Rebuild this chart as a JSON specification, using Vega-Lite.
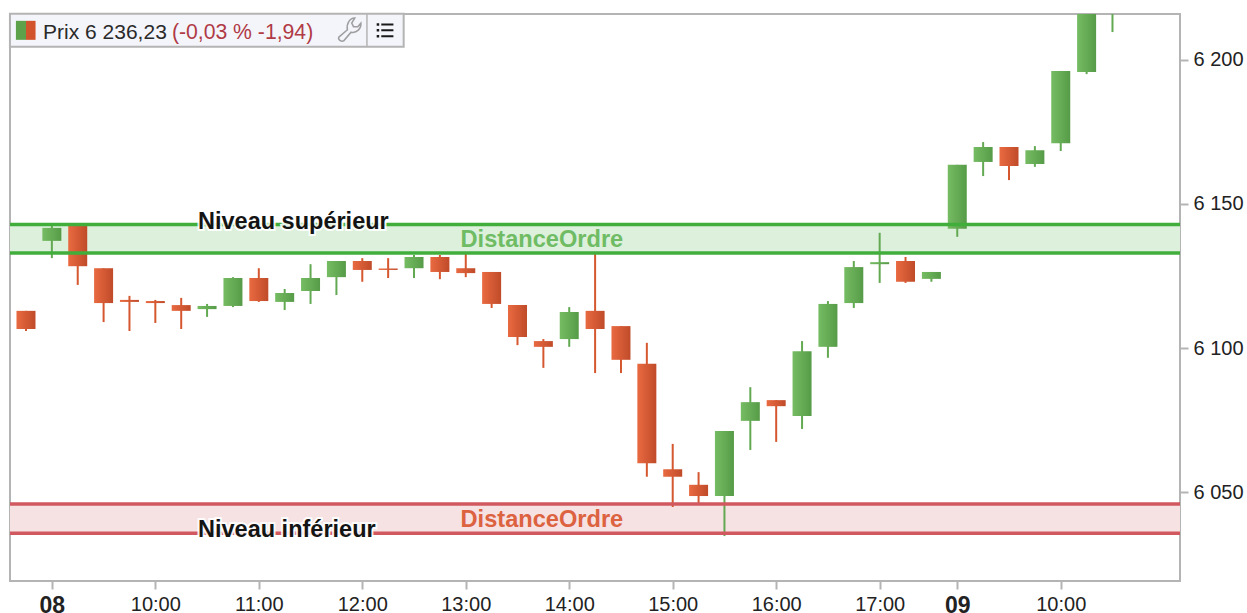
{"$schema":"https://vega.github.io/schema/vega-lite/v6.json","autosize":{"type":"none"},"padding":{"left":10,"top":14,"right":67,"bottom":32},"width":1170,"height":567,"background":"white","view":{"stroke":"#b4b4b4","strokeWidth":2,"fill":"white"},
"datasets":{"candles":[
{"slot":0,"open":6112.9,"close":6106.6,"high":6112.9,"low":6105.9,"dir":"down"},
{"slot":1,"open":6137.2,"close":6141.7,"high":6142.7,"low":6131.2,"dir":"up"},
{"slot":2,"open":6142.4,"close":6128.4,"high":6142.4,"low":6121.9,"dir":"down"},
{"slot":3,"open":6127.7,"close":6115.6,"high":6127.7,"low":6109,"dir":"down"},
{"slot":4,"open":6116.7,"close":6116,"high":6118.1,"low":6105.9,"dir":"down"},
{"slot":5,"open":6116.3,"close":6115.6,"high":6116.7,"low":6108.7,"dir":"down"},
{"slot":6,"open":6114.9,"close":6112.9,"high":6117.4,"low":6106.6,"dir":"down"},
{"slot":7,"open":6113.5,"close":6114.6,"high":6115.3,"low":6110.8,"dir":"up"},
{"slot":8,"open":6114.6,"close":6124.3,"high":6124.6,"low":6114.2,"dir":"up"},
{"slot":9,"open":6124.3,"close":6116.3,"high":6127.7,"low":6116,"dir":"down"},
{"slot":10,"open":6116,"close":6119.1,"high":6120.5,"low":6113.2,"dir":"up"},
{"slot":11,"open":6119.8,"close":6124.3,"high":6129.1,"low":6115.3,"dir":"up"},
{"slot":12,"open":6124.6,"close":6130.2,"high":6130.2,"low":6118.4,"dir":"up"},
{"slot":13,"open":6130.2,"close":6127.1,"high":6131.2,"low":6123,"dir":"down"},
{"slot":14,"open":6127.6,"close":6127.1,"high":6131.2,"low":6124.3,"dir":"down"},
{"slot":15,"open":6127.7,"close":6131.6,"high":6132.3,"low":6124.3,"dir":"up"},
{"slot":16,"open":6131.6,"close":6126.4,"high":6132.3,"low":6123.9,"dir":"down"},
{"slot":17,"open":6127.7,"close":6126,"high":6133,"low":6124.6,"dir":"down"},
{"slot":18,"open":6126.4,"close":6115.3,"high":6126.4,"low":6113.9,"dir":"down"},
{"slot":19,"open":6114.9,"close":6103.8,"high":6114.9,"low":6101,"dir":"down"},
{"slot":20,"open":6102.4,"close":6100.4,"high":6103.1,"low":6093.1,"dir":"down"},
{"slot":21,"open":6103.1,"close":6112.5,"high":6114.2,"low":6100.4,"dir":"up"},
{"slot":22,"open":6112.9,"close":6106.6,"high":6133,"low":6091.3,"dir":"down"},
{"slot":23,"open":6107.6,"close":6095.9,"high":6107.6,"low":6091.3,"dir":"down"},
{"slot":24,"open":6094.5,"close":6060,"high":6101.8,"low":6055.3,"dir":"down"},
{"slot":25,"open":6057.9,"close":6055.3,"high":6066.7,"low":6044.8,"dir":"down"},
{"slot":26,"open":6052.5,"close":6048.6,"high":6056.9,"low":6046.2,"dir":"down"},
{"slot":27,"open":6048.6,"close":6071.2,"high":6071.2,"low":6034.7,"dir":"up"},
{"slot":28,"open":6074.7,"close":6081.2,"high":6086.4,"low":6064.6,"dir":"up"},
{"slot":29,"open":6081.9,"close":6079.8,"high":6081.9,"low":6067.4,"dir":"down"},
{"slot":30,"open":6076.4,"close":6098.9,"high":6102.4,"low":6071.9,"dir":"up"},
{"slot":31,"open":6100.4,"close":6115.3,"high":6116.3,"low":6096.6,"dir":"up"},
{"slot":32,"open":6115.6,"close":6128.1,"high":6130.2,"low":6113.9,"dir":"up"},
{"slot":33,"open":6129.1,"close":6129.8,"high":6140,"low":6122.6,"dir":"up"},
{"slot":34,"open":6130.2,"close":6123,"high":6131.6,"low":6122.6,"dir":"down"},
{"slot":35,"open":6124,"close":6126.4,"high":6126.4,"low":6123,"dir":"up"},
{"slot":36,"open":6141.4,"close":6163.6,"high":6163.6,"low":6138.6,"dir":"up"},
{"slot":37,"open":6164.6,"close":6169.8,"high":6171.5,"low":6159.7,"dir":"up"},
{"slot":38,"open":6169.8,"close":6163.2,"high":6169.8,"low":6158.3,"dir":"down"},
{"slot":39,"open":6163.9,"close":6168.7,"high":6170.1,"low":6162.9,"dir":"up"},
{"slot":40,"open":6171.1,"close":6196.2,"high":6196.2,"low":6168.4,"dir":"up"},
{"slot":41,"open":6195.8,"close":6230,"high":6232,"low":6195.1,"dir":"up"},
{"slot":42,"open":6222,"close":6236.23,"high":6240,"low":6209.7,"dir":"up"}],
"zones":[{"niveau":"sup","bas":6133,"haut":6142.9},{"niveau":"inf","bas":6035.7,"haut":6045.8}],
"lignes":[{"niveau":"sup","prix":6142.9},{"niveau":"sup","prix":6133},{"niveau":"inf","prix":6045.8},{"niveau":"inf","prix":6035.7}],
"niveaux":[{"texte":"Niveau supérieur","slot":6.65,"prix":6143.6},{"texte":"Niveau inférieur","slot":6.65,"prix":6036.7}],
"distances":[{"texte":"DistanceOrdre","slot":16.8,"prix":6137.4,"niveau":"sup"},{"texte":"DistanceOrdre","slot":16.8,"prix":6040.3,"niveau":"inf"}],
"boite":[{"x1":-0.62,"x2":14.6,"y1":6204.6,"y2":6216.1}],
"pastilles":[{"x1":-0.39,"x2":0,"y1":6207,"y2":6213.6,"sens":"up"},{"x1":0,"x2":0.37,"y1":6207,"y2":6213.6,"sens":"down"}],
"separateur":[{"slot":13.18,"y1":6204.6,"y2":6216.1}],
"entete":[{"texte":"Prix 6 236,23","slot":0.66,"prix":6209.4,"type":"prix"},{"texte":"(-0,03 % -1,94)","slot":5.64,"prix":6209.4,"type":"var"}],
"iconeCle":[{"slot":12.52,"prix":6210.5}],
"iconeListe":[{"slot":13.88,"prix":6210.3}]},
"layer":[
{"data":{"name":"zones"},"transform":[{"filter":"datum.niveau=='sup'"}],"mark":{"type":"rect","fill":"#dcf0dc"},"encoding":{"y":{"field":"bas","type":"quantitative"},"y2":{"field":"haut"}}},
{"data":{"name":"zones"},"transform":[{"filter":"datum.niveau=='inf'"}],"mark":{"type":"rect","fill":"#f6e1e3"},"encoding":{"y":{"field":"bas","type":"quantitative"},"y2":{"field":"haut"}}},
{"data":{"name":"candles"},"mark":{"type":"rule","strokeWidth":2,"clip":true},"encoding":{"x":{"field":"slot","type":"quantitative","scale":{"domain":[-0.618,44.61],"nice":false,"zero":false,"padding":0},"axis":{"values":[1,5,9,13,17,21,25,29,33,36,40],"labelExpr":"datum.value==1?'08':datum.value==36?'09':datum.value==5||datum.value==40?'10:00':datum.value==9?'11:00':datum.value==13?'12:00':datum.value==17?'13:00':datum.value==21?'14:00':datum.value==25?'15:00':datum.value==29?'16:00':'17:00'","title":null,"grid":false,"domain":false,"tickColor":"#b4b4b4","tickSize":8,"tickWidth":2,"labelFont":"Liberation Sans","labelFontSize":{"condition":{"test":"datum.value==1||datum.value==36","value":23},"value":20},"labelFontWeight":{"condition":{"test":"datum.value==1||datum.value==36","value":"bold"},"value":"normal"},"labelColor":"#222222","labelPadding":5,"labelOverlap":false,"labelBound":false,"labelFlush":false}},"y":{"field":"low","type":"quantitative","scale":{"domain":[6019.1,6215.97],"nice":false,"zero":false,"padding":0},"axis":{"orient":"right","values":[6050,6100,6150,6200],"labelExpr":"'6 '+format(datum.value-6000,'03d')","title":null,"grid":false,"domain":false,"tickColor":"#b4b4b4","tickSize":8,"tickWidth":2,"labelFont":"Liberation Sans","labelFontSize":20,"labelColor":"#222222","labelPadding":5}},"y2":{"field":"high"},"stroke":{"field":"dir","type":"nominal","legend":null,"scale":{"domain":["up","down"],"range":["#62a952","#d5572f"]}}}},
{"data":{"name":"candles"},"transform":[{"filter":"datum.dir=='up'"}],"mark":{"type":"bar","width":19,"clip":true,"color":{"gradient":"linear","x1":0,"x2":1,"y1":0,"y2":0,"stops":[{"offset":0,"color":"#76bc63"},{"offset":1,"color":"#569b47"}]}},"encoding":{"x":{"field":"slot","type":"quantitative"},"y":{"field":"open","type":"quantitative"},"y2":{"field":"close"}}},
{"data":{"name":"candles"},"transform":[{"filter":"datum.dir=='down'"}],"mark":{"type":"bar","width":19,"clip":true,"color":{"gradient":"linear","x1":0,"x2":1,"y1":0,"y2":0,"stops":[{"offset":0,"color":"#e96a41"},{"offset":1,"color":"#c04b29"}]}},"encoding":{"x":{"field":"slot","type":"quantitative"},"y":{"field":"open","type":"quantitative"},"y2":{"field":"close"}}},
{"data":{"name":"lignes"},"transform":[{"filter":"datum.niveau=='sup'"}],"mark":{"type":"rule","stroke":"#41ae3c","strokeWidth":3.5},"encoding":{"y":{"field":"prix","type":"quantitative"}}},
{"data":{"name":"lignes"},"transform":[{"filter":"datum.niveau=='inf'"}],"mark":{"type":"rule","stroke":"#d1585f","strokeWidth":3.5},"encoding":{"y":{"field":"prix","type":"quantitative"}}},
{"data":{"name":"niveaux"},"mark":{"type":"text","align":"left","baseline":"middle","font":"Liberation Sans","fontWeight":"bold","fontSize":23.5,"stroke":"white","strokeWidth":4,"strokeOpacity":0.9,"fill":"white"},"encoding":{"x":{"field":"slot","type":"quantitative"},"y":{"field":"prix","type":"quantitative"},"text":{"field":"texte"}}},
{"data":{"name":"niveaux"},"mark":{"type":"text","align":"left","baseline":"middle","font":"Liberation Sans","fontWeight":"bold","fontSize":23.5,"fill":"#141414"},"encoding":{"x":{"field":"slot","type":"quantitative"},"y":{"field":"prix","type":"quantitative"},"text":{"field":"texte"}}},
{"data":{"name":"distances"},"transform":[{"filter":"datum.niveau=='sup'"}],"mark":{"type":"text","align":"left","baseline":"middle","font":"Liberation Sans","fontWeight":"bold","fontSize":23.6,"fill":"#6fbc64"},"encoding":{"x":{"field":"slot","type":"quantitative"},"y":{"field":"prix","type":"quantitative"},"text":{"field":"texte"}}},
{"data":{"name":"distances"},"transform":[{"filter":"datum.niveau=='inf'"}],"mark":{"type":"text","align":"left","baseline":"middle","font":"Liberation Sans","fontWeight":"bold","fontSize":23.6,"fill":"#dc6240"},"encoding":{"x":{"field":"slot","type":"quantitative"},"y":{"field":"prix","type":"quantitative"},"text":{"field":"texte"}}},
{"data":{"name":"boite"},"mark":{"type":"rect","fill":"#f4f5fa","stroke":"#b4b4b4","strokeWidth":2},"encoding":{"x":{"field":"x1","type":"quantitative"},"x2":{"field":"x2"},"y":{"field":"y1","type":"quantitative"},"y2":{"field":"y2"}}},
{"data":{"name":"separateur"},"mark":{"type":"rule","stroke":"#b4b4b4","strokeWidth":1.5},"encoding":{"x":{"field":"slot","type":"quantitative"},"y":{"field":"y1","type":"quantitative"},"y2":{"field":"y2"}}},
{"data":{"name":"pastilles"},"transform":[{"filter":"datum.sens=='up'"}],"mark":{"type":"rect","fill":"#5da24b"},"encoding":{"x":{"field":"x1","type":"quantitative"},"x2":{"field":"x2"},"y":{"field":"y1","type":"quantitative"},"y2":{"field":"y2"}}},
{"data":{"name":"pastilles"},"transform":[{"filter":"datum.sens=='down'"}],"mark":{"type":"rect","fill":"#d2542d"},"encoding":{"x":{"field":"x1","type":"quantitative"},"x2":{"field":"x2"},"y":{"field":"y1","type":"quantitative"},"y2":{"field":"y2"}}},
{"data":{"name":"entete"},"transform":[{"filter":"datum.type=='prix'"}],"mark":{"type":"text","align":"left","baseline":"middle","font":"Liberation Sans","fontSize":21,"fill":"#2a2a2a"},"encoding":{"x":{"field":"slot","type":"quantitative"},"y":{"field":"prix","type":"quantitative"},"text":{"field":"texte"}}},
{"data":{"name":"entete"},"transform":[{"filter":"datum.type=='var'"}],"mark":{"type":"text","align":"left","baseline":"middle","font":"Liberation Sans","fontSize":21.2,"fill":"#b03a45"},"encoding":{"x":{"field":"slot","type":"quantitative"},"y":{"field":"prix","type":"quantitative"},"text":{"field":"texte"}}},
{"data":{"name":"iconeCle"},"mark":{"type":"point","filled":false,"stroke":"#7a7a7a","strokeWidth":1.5,"size":600,"shape":"M-0.9,0.6 L-0.2,0 C-0.3,-0.5 0,-0.95 0.4,-0.95 L0.15,-0.55 L0.3,-0.25 L0.65,-0.25 L0.9,-0.55 C0.95,-0.1 0.55,0.3 0.1,0.2 L-0.5,0.9 C-0.7,1 -1,0.8 -0.9,0.6 Z"},"encoding":{"x":{"field":"slot","type":"quantitative"},"y":{"field":"prix","type":"quantitative"}}},
{"data":{"name":"iconeListe"},"mark":{"type":"point","filled":true,"fill":"#1a1a1a","opacity":1,"size":280,"shape":"M-1,-0.85 L-0.7,-0.85 L-0.7,-0.55 L-1,-0.55 Z M-0.45,-0.82 L1,-0.82 L1,-0.58 L-0.45,-0.58 Z M-1,-0.15 L-0.7,-0.15 L-0.7,0.15 L-1,0.15 Z M-0.45,-0.12 L1,-0.12 L1,0.12 L-0.45,0.12 Z M-1,0.55 L-0.7,0.55 L-0.7,0.85 L-1,0.85 Z M-0.45,0.58 L1,0.58 L1,0.82 L-0.45,0.82 Z"},"encoding":{"x":{"field":"slot","type":"quantitative"},"y":{"field":"prix","type":"quantitative"}}}
]}
